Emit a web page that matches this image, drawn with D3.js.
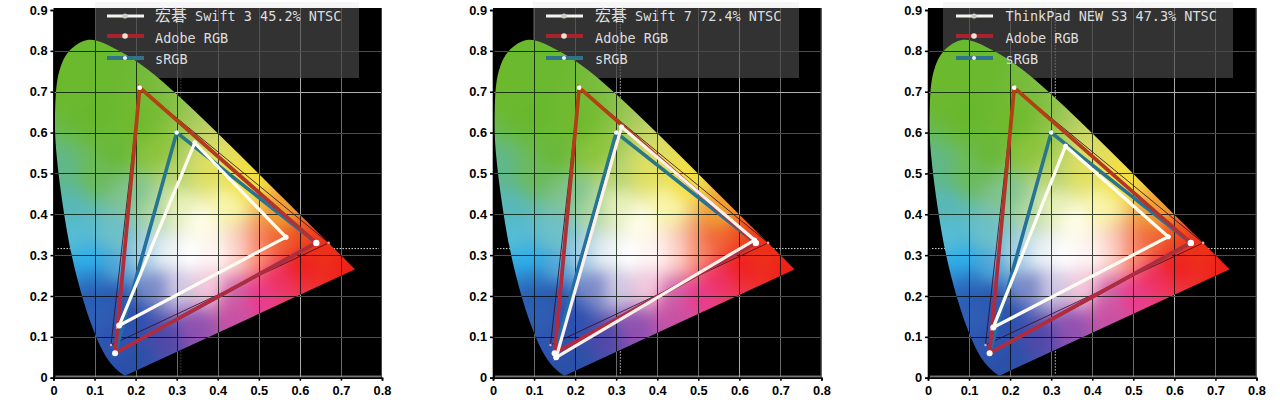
<!DOCTYPE html>
<html><head><meta charset="utf-8">
<script src="https://cdn.jsdelivr.net/npm/d3@7"></script>
<style>html,body{margin:0;padding:0;background:#fff;overflow:hidden}svg{display:block}</style>
</head><body><svg id="c" width="1280" height="400"></svg>
<script>
// ---- data ----
const locusX=[0.1741,0.1644,0.144,0.1241,0.0913,0.0454,0.0082,0.0039,0.0139,0.0389,0.0860,0.1547,0.2296,0.3016,0.3731,0.4441,0.5125,0.5752,0.627,0.6658,0.6915,0.7347];
const locusY=[0.005,0.0109,0.0297,0.0578,0.1327,0.295,0.5384,0.6548,0.7502,0.800,0.8270,0.8030,0.7543,0.6923,0.6245,0.5547,0.4866,0.4242,0.3725,0.334,0.3083,0.2653];
const fieldX=[0.05,0.1,0.1,0.2,0.15,0.02,0.1,0.03,0.05,0.15,0.09,0.15,0.1,0.1,0.15,0.22,0.27,0.33,0.4,0.36,0.42,0.45,0.5,0.55,0.6,0.56,0.47,0.38,0.3,0.25,0.2,0.25,0.3,0.25,0.3,0.38,0.44,0.5,0.55,0.6,0.73,0.65,0.35,0.27,0.2,0.15,0.2,0.44,0.17];
const fieldY=[0.72,0.78,0.65,0.62,0.55,0.5,0.5,0.42,0.35,0.35,0.28,0.27,0.245,0.2,0.2,0.3,0.3,0.3,0.3,0.38,0.42,0.3,0.3,0.33,0.35,0.4,0.48,0.5,0.5,0.55,0.45,0.42,0.42,0.22,0.22,0.22,0.2,0.2,0.25,0.28,0.265,0.32,0.12,0.1,0.05,0.08,0.14,0.15,0.01];
const fieldColor=["#6cb92e","#6ab92e","#68b82c","#70ba2e","#6ab93a","#60b88c","#6cba5c","#58b8b8","#55bcd4","#6cc0c8","#2cb0ec","#50a8d8","#2c78c4","#2a5cb4","#2c58b0","#a8d0e8","#e8f0f4","#ffffff","#fff5f5","#fffde8","#f8f4a8","#fcd0c8","#f88c70","#f06438","#ee5020","#f0a030","#f2e040","#e0e060","#b8d470","#8cc43c","#80c490","#b0d8a0","#e8f0b8","#7a88c8","#d0c8e4","#f4c8dc","#d060a8","#ea3a8c","#ee3060","#ee2020","#ee2018","#ee3018","#9050b0","#5048a8","#2c50a8","#2c55b0","#2c50b0","#c850a4","#2b50a8"];

const panelNames=["Swift 3 45.2% NTSC","Swift 7 72.4% NTSC","ThinkPad NEW S3 47.3% NTSC"];
const panelPrefix=["宏碁","宏碁",""];
const deviceX=[[0.566,0.344,0.160],[0.637,0.313,0.154],[0.585,0.335,0.159]];
const deviceY=[[0.344,0.575,0.128],[0.337,0.614,0.050],[0.345,0.567,0.123]];
const adobeX=[0.64,0.21,0.15], adobeY=[0.33,0.71,0.06];
const srgbX=[0.64,0.30,0.15], srgbY=[0.33,0.60,0.06];
const ntscX=[0.67,0.21,0.14], ntscY=[0.33,0.71,0.08];
const whiteX=0.31, whiteY=0.316;
const legendLabels=["Adobe RGB","sRGB"];
const xTicks=[0,0.1,0.2,0.3,0.4,0.5,0.6,0.7,0.8];
const yTicks=[0,0.1,0.2,0.3,0.4,0.5,0.6,0.7,0.8,0.9];

// ---- layout ----
const panelLeft=[53.5,493,928], panelW=328.5;
const boxLeft=[95,533,943], boxRight=[359,799,1233];
const lineLeft=[107,546,956], textLeft=[155,595,1005.5];
const vDotOpacity=[0.3,0.9,0.9];
const topY=10,bottomY=377.7,plotTop=8;

const svg=d3.select("#c");
const fmt=d=>d===0?"0":d3.format(".1f")(d);
const defs=svg.append("defs");

const y=d3.scaleLinear().domain([0,0.9]).range([bottomY,topY]);
const xBase=d3.scaleLinear().domain([0,0.8]).range([0,panelW]);

// colour field, rendered once in data space
const fw=Math.ceil(panelW), fh=Math.ceil(bottomY-plotTop);
const raw=document.createElement("canvas");raw.width=fw;raw.height=fh;
const rawCtx=raw.getContext("2d"),img=rawCtx.createImageData(fw,fh);
const rgbs=fieldColor.map(c=>d3.rgb(c));
for(let j=0;j<fh;j++){const dy=y.invert(plotTop+j+.5);
  for(let i=0;i<fw;i++){const dx=xBase.invert(i+.5);
    let r=0,g=0,b=0,w=0;
    for(let k=0;k<rgbs.length;k++){
      const d2=(dx-fieldX[k])**2+(dy-fieldY[k])**2+1e-5;
      const q=1/(d2*d2);
      r+=rgbs[k].r*q;g+=rgbs[k].g*q;b+=rgbs[k].b*q;w+=q;
    }
    const o=(j*fw+i)*4;
    img.data[o]=r/w;img.data[o+1]=g/w;img.data[o+2]=b/w;img.data[o+3]=255;
  }}
rawCtx.putImageData(img,0,0);
const cv=document.createElement("canvas");cv.width=fw;cv.height=fh;
const ctx=cv.getContext("2d");
ctx.drawImage(raw,0,0);
ctx.filter="blur(7px)";
ctx.drawImage(raw,0,0);
const fieldURL=cv.toDataURL();

// stroke gradients
function grad(id,hi,lo){
  const g=defs.append("linearGradient").attr("id",id).attr("gradientUnits","userSpaceOnUse")
    .attr("x1",0).attr("x2",0).attr("y1",y(0.7)).attr("y2",y(0.25));
  g.append("stop").attr("offset",0).attr("stop-color",hi);
  g.append("stop").attr("offset",1).attr("stop-color",lo);
}
grad("adobeStroke","#b2430f","#b3293e");
grad("srgbStroke","#2f7a78","#1f6fa8");

panelLeft.forEach((left,p)=>{
  const x=d3.scaleLinear().domain([0,0.8]).range([left,left+panelW]);
  const g=svg.append("g");
  const line=d3.line().x(i=>x(locusX[i])).y(i=>y(locusY[i])).curve(d3.curveCatmullRom.alpha(0.5));
  const locusPath=line(d3.range(locusX.length))+"Z";
  defs.append("clipPath").attr("id","gamut"+p).append("path").attr("d",locusPath);

  g.append("rect").attr("x",left).attr("y",plotTop).attr("width",panelW).attr("height",bottomY-plotTop).attr("fill","#000");

  // grid
  const gridV=xTicks.slice(1,-1), gridH=yTicks.slice(1,-1);
  const grid=g.append("g");
  grid.selectAll("line.v").data(gridV).join("line").attr("class","v")
    .attr("x1",d=>Math.round(x(d))+.5).attr("x2",d=>Math.round(x(d))+.5).attr("y1",plotTop).attr("y2",bottomY)
    .attr("stroke",d=>d===0.6?"#a8a8a8":"#6a6a6a");
  grid.selectAll("line.h").data(gridH).join("line").attr("class","h")
    .attr("y1",d=>Math.round(y(d))+.5).attr("y2",d=>Math.round(y(d))+.5).attr("x1",left).attr("x2",left+panelW)
    .attr("stroke",d=>d===0.7?"#b0b0b0":"#4c4c4c");
  g.append("line").attr("x1",left+2).attr("x2",left+panelW).attr("y1",bottomY-1.5).attr("y2",bottomY-1.5).attr("stroke","#a8a8a8");
  g.append("line").attr("x1",left+panelW-.5).attr("x2",left+panelW-.5).attr("y1",plotTop).attr("y2",bottomY).attr("stroke","#444");

  // dotted white-point crosshair
  g.append("line").attr("x1",left+4).attr("x2",left+panelW-3).attr("y1",y(whiteY)).attr("y2",y(whiteY))
    .attr("stroke","#ddd").attr("stroke-dasharray","1.5 1.5");
  g.append("line").attr("x1",x(whiteX)).attr("x2",x(whiteX)).attr("y1",y(0.01)).attr("y2",plotTop)
    .attr("stroke","#ddd").attr("stroke-opacity",vDotOpacity[p]).attr("stroke-dasharray","1.5 1.5");

  // legend box sits behind the gamut
  g.append("rect").attr("x",boxLeft[p]).attr("y",2).attr("width",boxRight[p]-boxLeft[p]).attr("height",6).attr("fill","#f6f6f6");
  g.append("rect").attr("x",boxLeft[p]).attr("y",plotTop).attr("width",boxRight[p]-boxLeft[p]).attr("height",70)
    .attr("fill","#4a4a4a").attr("fill-opacity",0.68);

  // gamut
  const inner=g.append("g").attr("clip-path",`url(#gamut${p})`);
  inner.append("image").attr("href",fieldURL).attr("x",left).attr("y",plotTop).attr("width",fw).attr("height",fh);
  const innerGrid=inner.append("g").style("mix-blend-mode","multiply");
  innerGrid.selectAll("line.v").data(gridV).join("line").attr("class","v")
    .attr("x1",d=>Math.round(x(d))+.5).attr("x2",d=>Math.round(x(d))+.5).attr("y1",plotTop).attr("y2",bottomY).attr("stroke","#3c4a3c");
  innerGrid.selectAll("line.h").data(gridH).join("line").attr("class","h")
    .attr("y1",d=>Math.round(y(d))+.5).attr("y2",d=>Math.round(y(d))+.5).attr("x1",left).attr("x2",left+panelW).attr("stroke","#3c4a3c");

  // triangles
  const tri=(xs,ys,stroke,w,op)=>g.append("path")
    .attr("d",d3.line().x(i=>x(xs[i])).y(i=>y(ys[i])).curve(d3.curveLinearClosed)([0,1,2]))
    .attr("fill","none").attr("stroke",stroke).attr("stroke-width",w).attr("stroke-linejoin","miter").attr("stroke-opacity",op);
  tri(ntscX,ntscY,"#3a0e22",1,0.85);
  tri(srgbX,srgbY,"url(#srgbStroke)",3.6,1);
  tri(adobeX,adobeY,"url(#adobeStroke)",3.8,1);
  tri(deviceX[p],deviceY[p],p===1?"#fff0ea":"#fffdf2",3.2,1);

  const dots=(xs,ys,rs,color)=>g.append("g").selectAll("circle").data(d3.range(3)).join("circle")
    .attr("cx",i=>x(xs[i])).attr("cy",i=>y(ys[i])).attr("r",i=>rs[i]).attr("fill",color);
  dots(ntscX,ntscY,[1.3,0,1.2],"#f0a0a8");
  dots(srgbX,srgbY,[0,2.2,0],"#fff");
  dots(adobeX,adobeY,[3.2,2.3,3],"#fff");
  dots(deviceX[p],deviceY[p],[2.6,2.4,3],"#fff");

  // legend entries
  const rows=[{c:"#f4f4f0",w:3,r:2.6,dot:"#c8ccc0"},{c:"#a8242c",w:4,r:2.8,dot:"#f0e0d0"},{c:"#2f7488",w:4,r:2,dot:"#eef"}];
  const rowY=[16,36,58],base=[21,43,64];
  rows.forEach((r,i)=>{
    const lg=svg.append("g");
    lg.append("line").attr("x1",lineLeft[p]).attr("x2",lineLeft[p]+37).attr("y1",rowY[i]).attr("y2",rowY[i]).attr("stroke",r.c).attr("stroke-width",r.w);
    lg.append("circle").attr("cx",lineLeft[p]+18).attr("cy",rowY[i]).attr("r",r.r).attr("fill",r.dot);
    const t=lg.append("text").attr("x",textLeft[p]).attr("y",base[i]).attr("fill","#dedede")
      .style("font-family","'DejaVu Sans Mono','Liberation Mono',monospace").style("font-size","13.5px");
    if(i===0){
      if(panelPrefix[p]){
        t.append("tspan").style("font-family","'Noto Sans CJK SC'").style("font-size","16px").text(panelPrefix[p]);
        t.append("tspan").attr("x",textLeft[p]+40).text(panelNames[p]);
      } else t.text(panelNames[p]);
    } else t.text(legendLabels[i-1]);
  });

  // axes
  const ax=svg.append("g").attr("transform",`translate(0,${bottomY})`)
    .call(d3.axisBottom(x).tickValues(xTicks).tickFormat(fmt).tickSizeOuter(0).tickSize(3).tickPadding(5));
  const ay=svg.append("g").attr("transform",`translate(${left},0)`)
    .call(d3.axisLeft(y).tickValues(yTicks).tickFormat(fmt).tickSizeOuter(0).tickSize(3).tickPadding(3));
  [ax,ay].forEach(a=>{
    a.selectAll("path").attr("stroke","#000").attr("stroke-width",1.6);
    a.selectAll("line").attr("stroke","#000").attr("stroke-width",1.6);
    a.selectAll("text").attr("fill","#000").style("font-family","'Liberation Sans',Arial,sans-serif").style("font-weight","bold").style("font-size","12.8px");
  });
});
</script></body></html>
